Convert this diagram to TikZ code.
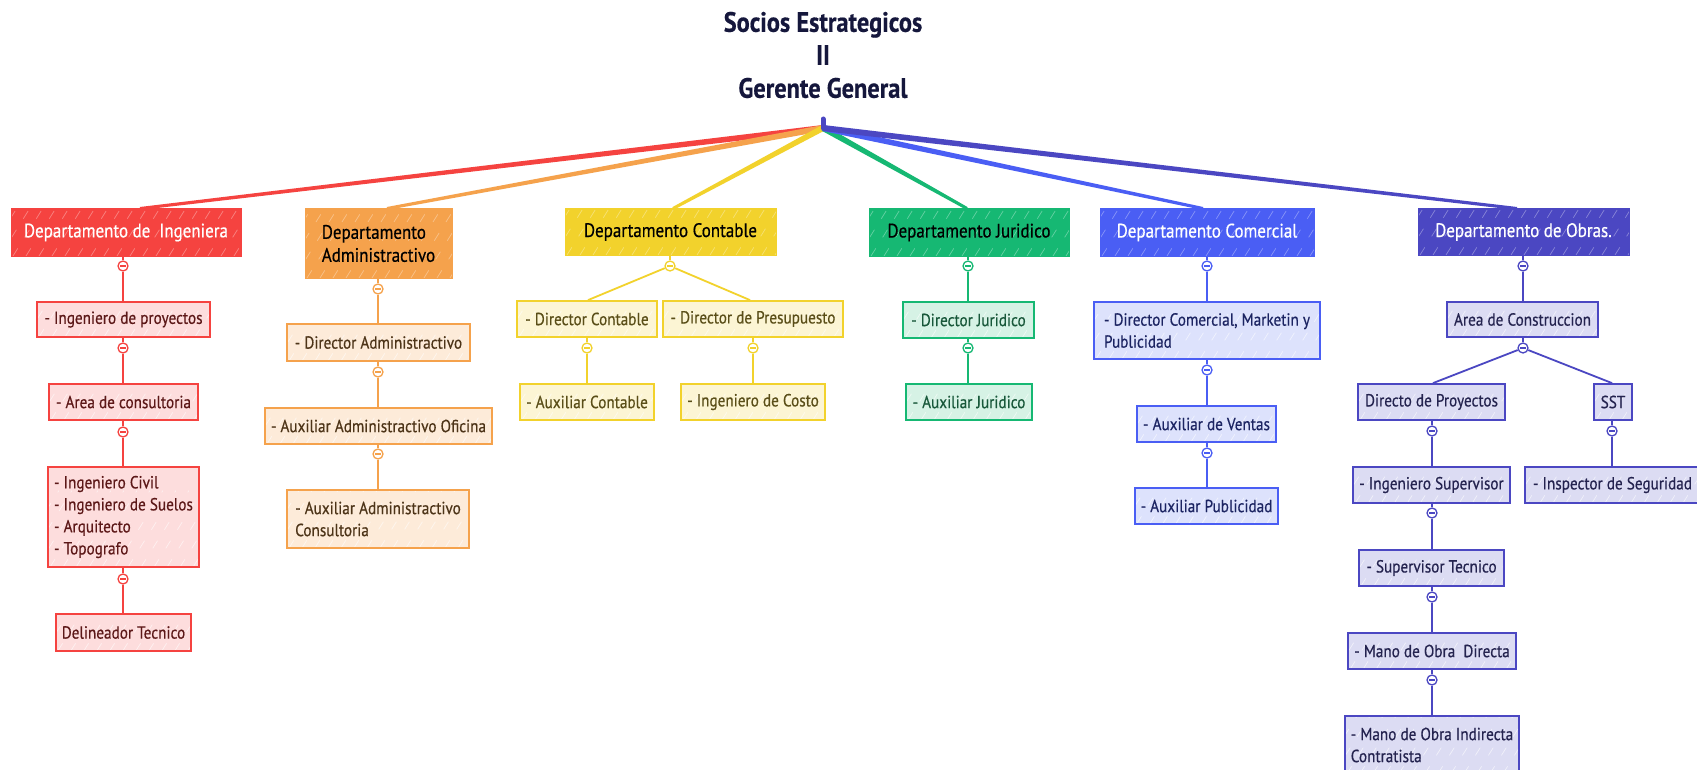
\documentclass[tikz,border=0pt]{standalone}
\usepackage{fontspec}
\setmainfont{PT Sans}[FakeStretch=0.87, FakeBold=0.5]
\usetikzlibrary{calc,backgrounds}

% branch palettes: strong fill, light fill, text
\definecolor{rojo}{HTML}{F54340}
\definecolor{rojoL}{HTML}{FDDDDD}
\definecolor{rojoT}{HTML}{5C1818}
\definecolor{naranja}{HTML}{F5A24C}
\definecolor{naranjaL}{HTML}{FDEBD9}
\definecolor{naranjaT}{HTML}{4D3418}
\definecolor{amarillo}{HTML}{F2D22C}
\definecolor{amarilloL}{HTML}{FCF5D4}
\definecolor{amarilloT}{HTML}{5A4E18}
\definecolor{verde}{HTML}{16B873}
\definecolor{verdeL}{HTML}{D6F2E5}
\definecolor{verdeT}{HTML}{18583A}
\definecolor{azul}{HTML}{4A5EF4}
\definecolor{azulL}{HTML}{DDE2FC}
\definecolor{azulT}{HTML}{1C2462}
\definecolor{indigo}{HTML}{4B47C2}
\definecolor{indigoL}{HTML}{DCDCF3}
\definecolor{indigoT}{HTML}{24234F}
\definecolor{tinta}{HTML}{15173C}

\tikzset{
  % light diagonal strokes across a filled box
  hatch/.style={path picture={
    \foreach \k in {0,...,22}{
      \draw[white, opacity=#1, line width=0.7pt, dash pattern=on 9pt off 13pt]
        ([xshift=\k*13pt-50pt]path picture bounding box.south west) -- ++(58:90pt);
    }}},
  dept/.style={fill=#1, draw=#1, line width=1pt, inner xsep=6pt, inner ysep=0pt,
    align=center, font=\fontsize{19.5}{23}\selectfont, hatch=0.35},
  child/.style={line width=1.8pt, inner xsep=6pt, inner ysep=0pt, align=left,
    font=\fontsize{17.5}{22}\selectfont, hatch=0.6},
  rchild/.style={child, draw=rojo, fill=rojoL, text=rojoT},
  ochild/.style={child, draw=naranja, fill=naranjaL, text=naranjaT},
  ychild/.style={child, draw=amarillo, fill=amarilloL, text=amarilloT},
  gchild/.style={child, draw=verde, fill=verdeL, text=verdeT},
  bchild/.style={child, draw=azul, fill=azulL, text=azulT},
  ichild/.style={child, draw=indigo, fill=indigoL, text=indigoT},
  knob/.style={circle, draw=#1, fill=white, line width=1.3pt, minimum size=10pt,
    inner sep=0pt,
    path picture={\draw[#1, line width=1.1pt]
      ([xshift=-2.6pt]path picture bounding box.center) --
      ([xshift=2.6pt]path picture bounding box.center);}},
  link/.style={draw=#1, line width=1.8pt},
  title/.style={align=center, text=tinta, font=\fontsize{28}{33}\selectfont\bfseries}
}

\begin{document}
\begin{tikzpicture}[x=1pt, y=-1pt]
\useasboundingbox (0,0) rectangle (1697,770);

% ---- top ----
\node[title] (gg) at (823,55) {Socios Estrategicos\\II\\Gerente General};
\coordinate (root) at (823,128);
\coordinate (stub) at (823,119);

% ---- departments ----
\node[dept=rojo, text=white, minimum width=230pt, minimum height=47pt]
  (ding) at (126,232.5) {Departamento de~ Ingeniera};
\node[dept=naranja, text=black, minimum width=147pt, minimum height=69pt, align=left]
  (dadm) at (378.5,243.5) {Departamento\\Administractivo};
\node[dept=amarillo, text=black, minimum width=211pt, minimum height=46pt]
  (dcont) at (670.5,232) {Departamento Contable};
\node[dept=verde, text=black, minimum width=200pt, minimum height=47pt]
  (djur) at (969,232.5) {Departamento Juridico};
\node[dept=azul, text=white, minimum width=214pt, minimum height=47pt]
  (dcom) at (1207,232.5) {Departamento Comercial};
\node[dept=indigo, text=white, minimum width=211pt, minimum height=46pt]
  (dobr) at (1523.5,232) {Departamento de Obras.};

% ---- Ingenieria ----
\node[rchild, minimum width=173pt, minimum height=35pt] (ip) at (123.5,319.5) {- Ingeniero de proyectos};
\node[rchild, minimum width=149pt, minimum height=36pt] (ac) at (123.5,402) {- Area de consultoria};
\node[rchild, minimum width=147pt, minimum height=100pt] (ic) at (123.5,517)
  {- Ingeniero Civil\\- Ingeniero de Suelos\\- Arquitecto\\- Topografo};
\node[rchild, minimum width=135pt, minimum height=37pt] (dt) at (123.5,632.5) {Delineador Tecnico};
\node[knob=rojo] (r1) at (123,266) {};
\node[knob=rojo] (r2) at (123,348) {};
\node[knob=rojo] (r3) at (123,432) {};
\node[knob=rojo] (r4) at (123,579) {};

% ---- Administrativo ----
\node[ochild, minimum width=183pt, minimum height=37pt] (da) at (378.5,342.5) {- Director Administractivo};
\node[ochild, minimum width=227pt, minimum height=36pt] (aao) at (378.5,426) {- Auxiliar Administractivo Oficina};
\node[ochild, minimum width=182pt, minimum height=58pt] (aac) at (378,519)
  {- Auxiliar Administractivo\\Consultoria};
\node[knob=naranja] (o1) at (378,289) {};
\node[knob=naranja] (o2) at (378,372) {};
\node[knob=naranja] (o3) at (378,454) {};

% ---- Contable ----
\node[ychild, minimum width=140pt, minimum height=36pt] (dc) at (587,319) {- Director Contable};
\node[ychild, minimum width=180pt, minimum height=36pt] (dp) at (753,319) {- Director de Presupuesto};
\node[ychild, minimum width=134pt, minimum height=36pt] (auxc) at (587,402) {- Auxiliar Contable};
\node[ychild, minimum width=144pt, minimum height=36pt] (ico) at (753,402) {- Ingeniero de Costo};
\node[knob=amarillo] (y1) at (670,266) {};
\node[knob=amarillo] (y2) at (587,348) {};
\node[knob=amarillo] (y3) at (753,348) {};

% ---- Juridico ----
\node[gchild, minimum width=131pt, minimum height=36pt] (dj) at (968.5,320) {- Director Juridico};
\node[gchild, minimum width=126pt, minimum height=36pt] (aj) at (969,402) {- Auxiliar Juridico};
\node[knob=verde] (g1) at (968,266) {};
\node[knob=verde] (g2) at (968,348) {};

% ---- Comercial ----
\node[bchild, minimum width=226pt, minimum height=57pt] (dcm) at (1207,330.5)
  {- Director Comercial, Marketin y\\Publicidad};
\node[bchild, minimum width=139pt, minimum height=36pt] (av) at (1206.5,424) {- Auxiliar de Ventas};
\node[bchild, minimum width=141pt, minimum height=36pt] (ap) at (1206.5,506) {- Auxiliar Publicidad};
\node[knob=azul] (b1) at (1207,266) {};
\node[knob=azul] (b2) at (1207,370) {};
\node[knob=azul] (b3) at (1207,453) {};

% ---- Obras ----
\node[ichild, minimum width=151pt, minimum height=35pt] (acon) at (1522.5,319.5) {Area de Construccion};
\node[ichild, minimum width=147pt, minimum height=36pt] (dpr) at (1431.5,402) {Directo de Proyectos};
\node[ichild, minimum width=38pt, minimum height=36pt, inner xsep=3pt] (sst) at (1613,402) {SST};
\node[ichild, minimum width=155pt, minimum height=36pt] (isup) at (1431.5,485) {- Ingeniero Supervisor};
\node[ichild, minimum width=175pt, minimum height=36pt] (iseg) at (1612.5,485) {- Inspector de Seguridad};
\node[ichild, minimum width=145pt, minimum height=36pt] (stec) at (1431.5,568) {- Supervisor Tecnico};
\node[ichild, minimum width=166pt, minimum height=36pt] (mod) at (1432,651) {- Mano de Obra~ Directa};
\node[ichild, minimum width=172pt, minimum height=58pt] (moi) at (1432,745)
  {- Mano de Obra Indirecta\\Contratista};
\node[knob=indigo] (i1) at (1523,266) {};
\node[knob=indigo] (i2) at (1523,348) {};
\node[knob=indigo] (i3) at (1432,431) {};
\node[knob=indigo] (i4) at (1612,431) {};
\node[knob=indigo] (i5) at (1432,513) {};
\node[knob=indigo] (i6) at (1432,597) {};
\node[knob=indigo] (i7) at (1432,680) {};

% ---- connectors, behind the boxes ----
\begin{scope}[on background layer]
  \fill[white] (0,0) rectangle (1697,770);
  % tapered strokes from the general manager to each department
  \coordinate (fr) at ([xshift=14pt]ding.north);
  \coordinate (fo) at ([xshift=8.5pt]dadm.north);
  \coordinate (fy) at ([xshift=2.5pt]dcont.north);
  \coordinate (fg) at ([xshift=-2pt]djur.north);
  \coordinate (fb) at ([xshift=-4pt]dcom.north);
  \coordinate (fi) at ([xshift=-6.5pt]dobr.north);
  \foreach \p/\c in {fr/rojo, fo/naranja, fy/amarillo, fg/verde, fb/azul, fi/indigo}{
    \fill[\c] ($(root)!3pt!90:(\p)$) -- ($(\p)!1.5pt!-90:(root)$)
      -- ($(\p)!1.5pt!90:(root)$) -- ($(root)!3pt!-90:(\p)$) -- cycle;
  }
  \draw[indigo, line width=5pt, line cap=round] (root) -- (stub);

  % Ingenieria
  \draw[link=rojo] (ding.south -| r1) -- (r1) -- (r1 |- ip.north);
  \draw[link=rojo] (ip.south -| r2) -- (r2) -- (r2 |- ac.north);
  \draw[link=rojo] (ac.south -| r3) -- (r3) -- (r3 |- ic.north);
  \draw[link=rojo] (ic.south -| r4) -- (r4) -- (r4 |- dt.north);
  % Administrativo
  \draw[link=naranja] (dadm.south -| o1) -- (o1) -- (o1 |- da.north);
  \draw[link=naranja] (da.south -| o2) -- (o2) -- (o2 |- aao.north);
  \draw[link=naranja] (aao.south -| o3) -- (o3) -- (o3 |- aac.north);
  % Contable
  \draw[link=amarillo] (dcont.south -| y1) -- (y1);
  \draw[link=amarillo] (y1) -- ([xshift=1pt]dc.north);
  \draw[link=amarillo] (y1) -- ([xshift=-3pt]dp.north);
  \draw[link=amarillo] (dc.south -| y2) -- (y2) -- (y2 |- auxc.north);
  \draw[link=amarillo] (dp.south -| y3) -- (y3) -- (y3 |- ico.north);
  % Juridico
  \draw[link=verde] (djur.south -| g1) -- (g1) -- (g1 |- dj.north);
  \draw[link=verde] (dj.south -| g2) -- (g2) -- (g2 |- aj.north);
  % Comercial
  \draw[link=azul] (dcom.south -| b1) -- (b1) -- (b1 |- dcm.north);
  \draw[link=azul] (dcm.south -| b2) -- (b2) -- (b2 |- av.north);
  \draw[link=azul] (av.south -| b3) -- (b3) -- (b3 |- ap.north);
  % Obras
  \draw[link=indigo] (dobr.south -| i1) -- (i1) -- (i1 |- acon.north);
  \draw[link=indigo] (acon.south -| i2) -- (i2);
  \draw[link=indigo] (i2) -- ([xshift=1.5pt]dpr.north);
  \draw[link=indigo] (i2) -- ([xshift=-1pt]sst.north);
  \draw[link=indigo] (dpr.south -| i3) -- (i3) -- (i3 |- isup.north);
  \draw[link=indigo] (sst.south -| i4) -- (i4) -- (i4 |- iseg.north);
  \draw[link=indigo] (isup.south -| i5) -- (i5) -- (i5 |- stec.north);
  \draw[link=indigo] (stec.south -| i6) -- (i6) -- (i6 |- mod.north);
  \draw[link=indigo] (mod.south -| i7) -- (i7) -- (i7 |- moi.north);
\end{scope}
\end{tikzpicture}
\end{document}
